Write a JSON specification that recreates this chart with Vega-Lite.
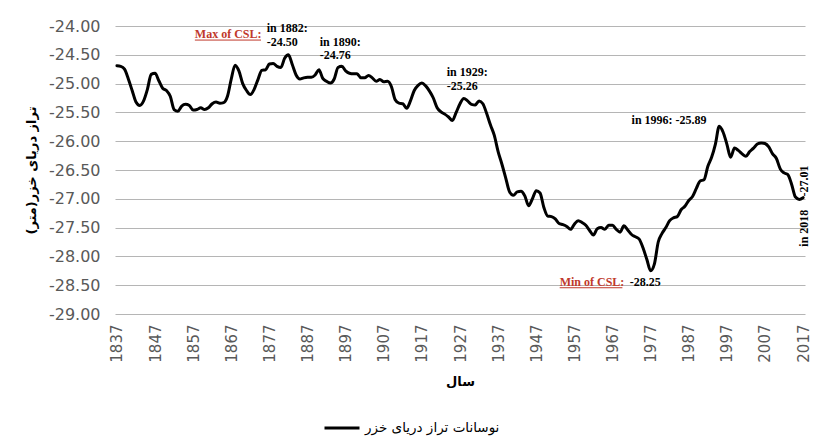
{
  "$schema": "https://vega.github.io/schema/vega-lite/v6.json",
  "autosize": "none",
  "width": 690,
  "height": 288,
  "padding": {"left": 115, "top": 26, "right": 10, "bottom": 134},
  "background": "white",
  "config": {"view": {"stroke": null}, "font": "DejaVu Sans"},
  "datasets": {
    "level": [
      {"year":1837,"level":-24.69},{"year":1838,"level":-24.70},{"year":1839,"level":-24.75},{"year":1840,"level":-24.92},{"year":1841,"level":-25.12},{"year":1842,"level":-25.32},{"year":1843,"level":-25.38},{"year":1844,"level":-25.30},{"year":1845,"level":-25.10},{"year":1846,"level":-24.84},
      {"year":1847,"level":-24.82},{"year":1848,"level":-24.95},{"year":1849,"level":-25.08},{"year":1850,"level":-25.12},{"year":1851,"level":-25.22},{"year":1852,"level":-25.45},{"year":1853,"level":-25.48},{"year":1854,"level":-25.39},{"year":1855,"level":-25.36},{"year":1856,"level":-25.38},
      {"year":1857,"level":-25.46},{"year":1858,"level":-25.45},{"year":1859,"level":-25.42},{"year":1860,"level":-25.45},{"year":1861,"level":-25.42},{"year":1862,"level":-25.35},{"year":1863,"level":-25.32},{"year":1864,"level":-25.34},{"year":1865,"level":-25.33},{"year":1866,"level":-25.22},
      {"year":1867,"level":-24.92},{"year":1868,"level":-24.68},{"year":1869,"level":-24.78},{"year":1870,"level":-25.00},{"year":1871,"level":-25.12},{"year":1872,"level":-25.19},{"year":1873,"level":-25.10},{"year":1874,"level":-24.93},{"year":1875,"level":-24.77},{"year":1876,"level":-24.76},
      {"year":1877,"level":-24.66},{"year":1878,"level":-24.65},{"year":1879,"level":-24.70},{"year":1880,"level":-24.72},{"year":1881,"level":-24.56},{"year":1882,"level":-24.50},{"year":1883,"level":-24.67},{"year":1884,"level":-24.85},{"year":1885,"level":-24.92},{"year":1886,"level":-24.90},
      {"year":1887,"level":-24.89},{"year":1888,"level":-24.89},{"year":1889,"level":-24.85},{"year":1890,"level":-24.76},{"year":1891,"level":-24.91},{"year":1892,"level":-24.96},{"year":1893,"level":-24.99},{"year":1894,"level":-24.92},{"year":1895,"level":-24.72},{"year":1896,"level":-24.70},
      {"year":1897,"level":-24.78},{"year":1898,"level":-24.82},{"year":1899,"level":-24.83},{"year":1900,"level":-24.83},{"year":1901,"level":-24.90},{"year":1902,"level":-24.90},{"year":1903,"level":-24.86},{"year":1904,"level":-24.90},{"year":1905,"level":-24.96},{"year":1906,"level":-24.93},
      {"year":1907,"level":-24.97},{"year":1908,"level":-24.96},{"year":1909,"level":-25.05},{"year":1910,"level":-25.28},{"year":1911,"level":-25.34},{"year":1912,"level":-25.35},{"year":1913,"level":-25.43},{"year":1914,"level":-25.30},{"year":1915,"level":-25.12},{"year":1916,"level":-25.03},
      {"year":1917,"level":-24.99},{"year":1918,"level":-25.04},{"year":1919,"level":-25.13},{"year":1920,"level":-25.25},{"year":1921,"level":-25.42},{"year":1922,"level":-25.49},{"year":1923,"level":-25.53},{"year":1924,"level":-25.58},{"year":1925,"level":-25.64},{"year":1926,"level":-25.50},
      {"year":1927,"level":-25.35},{"year":1928,"level":-25.26},{"year":1929,"level":-25.30},{"year":1930,"level":-25.36},{"year":1931,"level":-25.37},{"year":1932,"level":-25.30},{"year":1933,"level":-25.35},{"year":1934,"level":-25.52},{"year":1935,"level":-25.72},{"year":1936,"level":-25.90},
      {"year":1937,"level":-26.18},{"year":1938,"level":-26.40},{"year":1939,"level":-26.64},{"year":1940,"level":-26.88},{"year":1941,"level":-26.94},{"year":1942,"level":-26.88},{"year":1943,"level":-26.87},{"year":1944,"level":-26.95},{"year":1945,"level":-27.12},{"year":1946,"level":-27.00},
      {"year":1947,"level":-26.86},{"year":1948,"level":-26.90},{"year":1949,"level":-27.15},{"year":1950,"level":-27.30},{"year":1951,"level":-27.31},{"year":1952,"level":-27.35},{"year":1953,"level":-27.43},{"year":1954,"level":-27.45},{"year":1955,"level":-27.48},{"year":1956,"level":-27.53},
      {"year":1957,"level":-27.44},{"year":1958,"level":-27.38},{"year":1959,"level":-27.41},{"year":1960,"level":-27.46},{"year":1961,"level":-27.55},{"year":1962,"level":-27.63},{"year":1963,"level":-27.52},{"year":1964,"level":-27.50},{"year":1965,"level":-27.53},{"year":1966,"level":-27.46},
      {"year":1967,"level":-27.46},{"year":1968,"level":-27.53},{"year":1969,"level":-27.58},{"year":1970,"level":-27.47},{"year":1971,"level":-27.54},{"year":1972,"level":-27.62},{"year":1973,"level":-27.66},{"year":1974,"level":-27.70},{"year":1975,"level":-27.85},{"year":1976,"level":-28.05},
      {"year":1977,"level":-28.25},{"year":1978,"level":-28.13},{"year":1979,"level":-27.75},{"year":1980,"level":-27.60},{"year":1981,"level":-27.50},{"year":1982,"level":-27.38},{"year":1983,"level":-27.33},{"year":1984,"level":-27.31},{"year":1985,"level":-27.19},{"year":1986,"level":-27.13},
      {"year":1987,"level":-27.03},{"year":1988,"level":-26.96},{"year":1989,"level":-26.82},{"year":1990,"level":-26.69},{"year":1991,"level":-26.67},{"year":1992,"level":-26.44},{"year":1993,"level":-26.28},{"year":1994,"level":-26.05},{"year":1995,"level":-25.74},{"year":1996,"level":-25.84},
      {"year":1997,"level":-26.05},{"year":1998,"level":-26.28},{"year":1999,"level":-26.12},{"year":2000,"level":-26.16},{"year":2001,"level":-26.22},{"year":2002,"level":-26.26},{"year":2003,"level":-26.18},{"year":2004,"level":-26.12},{"year":2005,"level":-26.05},{"year":2006,"level":-26.03},
      {"year":2007,"level":-26.04},{"year":2008,"level":-26.10},{"year":2009,"level":-26.22},{"year":2010,"level":-26.30},{"year":2011,"level":-26.48},{"year":2012,"level":-26.55},{"year":2013,"level":-26.58},{"year":2014,"level":-26.75},{"year":2015,"level":-26.97},{"year":2016,"level":-27.01},
      {"year":2017,"level":-26.98}
    ],
    "notes": [
      {"label":"Max of CSL:","year":1857.45,"level":-24.14,"kind":"red","uend":1874.8},
      {"label":"in 1882:","year":1876.3,"level":-24.04,"kind":"black"},
      {"label":"-24.50","year":1876.3,"level":-24.27,"kind":"black"},
      {"label":"in 1890:","year":1890.2,"level":-24.27,"kind":"black"},
      {"label":"-24.76","year":1890.2,"level":-24.50,"kind":"black"},
      {"label":"in 1929:","year":1923.5,"level":-24.79,"kind":"black"},
      {"label":"-25.26","year":1923.5,"level":-25.04,"kind":"black"},
      {"label":"in 1996: -25.89","year":1972.0,"level":-25.63,"kind":"black"},
      {"label":"Min of CSL:","year":1953.15,"level":-28.44,"kind":"red","uend":1969.6},
      {"label":"-28.25","year":1971.5,"level":-28.44,"kind":"black"},
      {"label":"-27.01","year":2017.2,"level":-26.69,"kind":"vertical"},
      {"label":"in 2018","year":2017.2,"level":-27.51,"kind":"vertical"}
    ]
  },
  "encoding": {
    "x": {
      "field": "year", "type": "quantitative",
      "scale": {"domain": [1836.5, 2017.5], "nice": false, "zero": false},
      "axis": {
        "values": [1837,1847,1857,1867,1877,1887,1897,1907,1917,1927,1937,1947,1957,1967,1977,1987,1997,2007,2017],
        "format": "d", "labelAngle": -90, "labelFontSize": 15, "labelColor": "#595959",
        "labelPadding": 10, "grid": false, "domain": false, "ticks": false,
        "title": "سال", "titleFontSize": 13, "titleFontWeight": "bold", "titleColor": "#000000",
        "titlePadding": 13, "labelFlush": false, "labelOverlap": false
      }
    },
    "y": {
      "field": "level", "type": "quantitative",
      "scale": {"domain": [-29, -24], "nice": false, "zero": false},
      "axis": {
        "values": [-29,-28.5,-28,-27.5,-27,-26.5,-26,-25.5,-25,-24.5,-24],
        "format": ".2f", "labelExpr": "replace(datum.label, '−', '-')",
        "labelFontSize": 16, "labelColor": "#595959", "labelPadding": 15,
        "domain": false, "ticks": false, "gridColor": "#b5b5b5", "gridWidth": 1,
        "title": "تراز دریای خزر(متر)", "titleFontSize": 13, "titleFontWeight": "bold",
        "titleColor": "#000000", "titlePadding": 10
      }
    }
  },
  "layer": [
    {
      "data": {"name": "level"},
      "mark": {"type": "line", "interpolate": "monotone", "strokeWidth": 3, "strokeJoin": "round", "strokeCap": "round"},
      "encoding": {
        "color": {
          "datum": "نوسانات تراز دریای خزر", "type": "nominal",
          "scale": {"range": ["#000000"]},
          "legend": {
            "title": null, "orient": "none", "legendX": 208, "legendY": 383,
            "symbolType": "stroke", "symbolSize": 1225, "symbolStrokeWidth": 3,
            "labelFontSize": 13.5, "labelColor": "#000000", "labelFont": "DejaVu Sans"
          }
        }
      }
    },
    {
      "data": {"name": "notes"},
      "transform": [{"filter": "datum.kind === 'black'"}],
      "mark": {"type": "text", "align": "left", "baseline": "middle", "font": "Liberation Serif", "fontWeight": "bold", "fontSize": 12, "color": "#000000"},
      "encoding": {"text": {"field": "label"}}
    },
    {
      "data": {"name": "notes"},
      "transform": [{"filter": "datum.kind === 'red'"}],
      "mark": {"type": "text", "align": "left", "baseline": "middle", "font": "Liberation Serif", "fontWeight": "bold", "fontSize": 12, "color": "#c0392b"},
      "encoding": {"text": {"field": "label"}}
    },
    {
      "data": {"name": "notes"},
      "transform": [{"filter": "datum.kind === 'red'"}],
      "mark": {"type": "rule", "color": "#c0392b", "strokeWidth": 1, "yOffset": 6},
      "encoding": {"x2": {"field": "uend"}}
    },
    {
      "data": {"name": "notes"},
      "transform": [{"filter": "datum.kind === 'vertical'"}],
      "mark": {"type": "text", "align": "center", "baseline": "middle", "angle": 270, "font": "Liberation Serif", "fontWeight": "bold", "fontSize": 12, "color": "#000000"},
      "encoding": {"text": {"field": "label"}}
    }
  ]
}
